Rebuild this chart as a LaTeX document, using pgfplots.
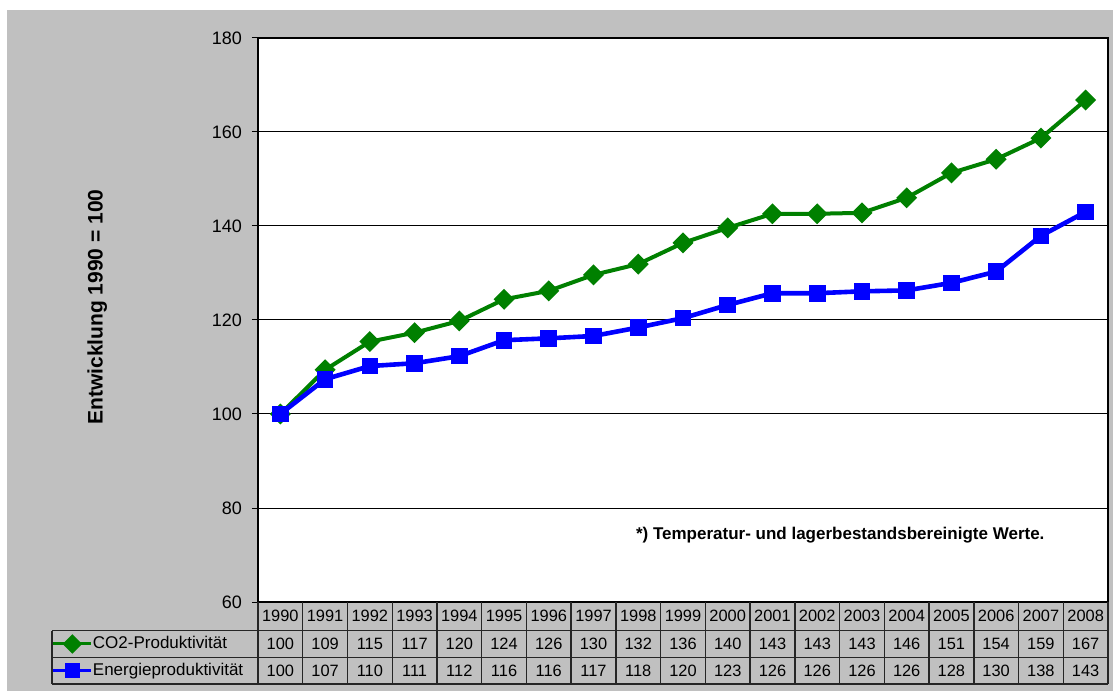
\documentclass[border=0pt]{standalone}
\usepackage{fontspec}
\setmainfont{Liberation Sans}
\usepackage{pgfplots}
\usepackage{pgfplotstable}
\pgfplotsset{compat=1.18}

\definecolor{bggray}{RGB}{192,192,192}
\definecolor{cogreen}{RGB}{0,128,0}
\definecolor{enblue}{RGB}{0,0,255}

% index 1990 = 100; co2r/enr are the rounded values shown in the table
\pgfplotstableread{
year co2   energy co2r enr
1990 100.0 100.0  100  100
1991 109.4 107.4  109  107
1992 115.4 110.2  115  110
1993 117.3 110.8  117  111
1994 119.8 112.3  120  112
1995 124.4 115.7  124  116
1996 126.2 116.1  126  116
1997 129.6 116.6  130  117
1998 131.9 118.4  132  118
1999 136.4 120.4  136  120
2000 139.6 123.2  140  123
2001 142.6 125.7  143  126
2002 142.6 125.7  143  126
2003 142.8 126.1  143  126
2004 146.0 126.3  146  126
2005 151.3 127.9  151  128
2006 154.2 130.3  154  130
2007 158.7 137.9  159  138
2008 166.8 143.0  167  143
}\data

\begin{document}
\begin{tikzpicture}
\useasboundingbox (0,0) rectangle (556.5pt,345.5pt);
\fill[white] (0,0) rectangle (556.5pt,345.5pt);
\fill[bggray] (3.5pt,0) rectangle (556.5pt,340.5pt);

\begin{axis}[
  at={(129pt,44.5pt)}, anchor=south west,
  scale only axis, width=425pt, height=282pt,
  xmin=1989.5, xmax=2008.5, ymin=60, ymax=180,
  ytick={60,80,...,180}, xtick=\empty, ytick pos=left,
  ymajorgrids, grid style={black, line width=0.5pt},
  axis background/.style={fill=white},
  axis line style={black, line width=0.9pt},
  tick align=outside, major tick length=3pt,
  tick style={black, line width=0.5pt},
  yticklabel style={font=\fontsize{9}{11}\selectfont, xshift=-1.5pt},
  /pgf/number format/assume math mode=true,
  ylabel={Entwicklung 1990 = 100},
  ylabel style={at={(axis description cs:-0.189,0.523)}, anchor=center,
    font=\bfseries\fontsize{10.5}{12}\selectfont},
  clip=false,
  legend cell align=left,
  legend style={at={(axis description cs:-0.2424,-0.0505)}, anchor=north west,
    draw=none, fill=none, inner sep=0pt, outer sep=0pt, row sep=0pt,
    font=\fontsize{8.5}{9}\selectfont,
    nodes={inner sep=0pt, text height=9pt, text depth=4.5pt}},
  legend image code/.code={
    \draw[mark repeat=2,mark phase=2,#1,line width=1.5pt] plot coordinates {(0pt,0pt) (9.5pt,0pt) (19pt,0pt)};},
  table text/.style={draw=none, forget plot, mark=none,
    nodes near coords={\pgfplotspointmeta}, point meta=explicit symbolic,
    every node near coord/.append style={anchor=center, text=black,
      font=\fontsize{8.2}{9}\selectfont}},
]
\addplot[cogreen, line width=2pt, mark=square*, mark size=2.7pt,
  mark options={rotate=45, solid}] table[x=year, y=co2] {\data};
\addlegendentry{CO2-Produktivität}
\addplot[enblue, line width=2.3pt, mark=square*, mark size=3pt,
  mark options={solid}] table[x=year, y=energy] {\data};
\addlegendentry{Energieproduktivität}

% data table under the plot
\addplot[table text] table[x=year, y expr=57.0, meta=year] {\data};
\addplot[table text] table[x=year, y expr=51.06, meta=co2r] {\data};
\addplot[table text] table[x=year, y expr=45.32, meta=enr] {\data};

\node[font=\bfseries\fontsize{8.5}{10}\selectfont] at (rel axis cs:0.685,0.119)
  {*) Temperatur- und lagerbestandsbereinigte Werte.};
\end{axis}

% grid of the data table, in pixel units of the reference
\begin{scope}[x=0.5pt, y=-0.5pt, shift={(0pt,345.5pt)}, line width=0.7pt]
  \draw[black!85] (52,630.5) -- (1108,630.5);
  \draw[black!85] (52,657.5) -- (1108,657.5);
  \draw[black!85] (52,684) -- (1108,684);
  \draw[black!85] (52,630.5) -- (52,684);
  \foreach \k in {0,...,19}
    \draw[black!85] ({258+\k*44.737},602) -- ({258+\k*44.737},684);
\end{scope}
\end{tikzpicture}
\end{document}
